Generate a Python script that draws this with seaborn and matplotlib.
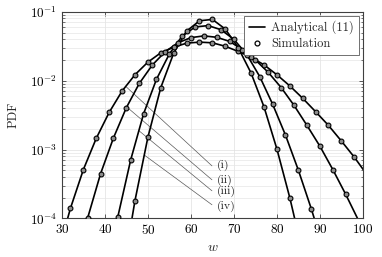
import pandas as pd
import seaborn as sns
import matplotlib.pyplot as plt
from matplotlib.lines import Line2D

# PDF values (log axis), one array per case
w_i = [29, 32, 35, 38, 41, 44, 47, 50, 53, 56, 59, 62, 65, 68, 71, 74, 77, 80, 83, 86, 89, 92, 95, 98, 101]
pdf_i = [3.0e-5, 1.41e-4, 5.13e-4, 1.46e-3, 3.47e-3, 7.08e-3, 1.22e-2, 1.86e-2, 2.54e-2, 3.06e-2,
         3.51e-2, 3.63e-2, 3.55e-2, 3.16e-2, 2.66e-2, 2.19e-2, 1.70e-2, 1.22e-2, 8.41e-3, 5.56e-3,
         3.55e-3, 2.24e-3, 1.33e-3, 7.76e-4, 4.27e-4]

w_ii = [33, 36, 39, 42, 45, 48, 51, 54, 57, 60, 63, 66, 69, 72, 75, 78, 81, 84, 87, 90, 93, 96, 99]
pdf_ii = [1.78e-5, 1.02e-4, 4.47e-4, 1.48e-3, 4.07e-3, 9.12e-3, 1.68e-2, 2.63e-2, 3.55e-2, 4.22e-2,
          4.47e-2, 4.27e-2, 3.72e-2, 2.82e-2, 2.00e-2, 1.32e-2, 7.94e-3, 4.37e-3, 2.24e-3, 1.12e-3,
          5.13e-4, 2.24e-4, 9.3e-5]

w_iii = [40, 43, 46, 49, 52, 55, 58, 61, 64, 67, 70, 73, 76, 79, 82, 85, 88, 91]
pdf_iii = [1.07e-5, 1.05e-4, 7.08e-4, 3.31e-3, 1.05e-2, 2.45e-2, 4.47e-2, 6.03e-2, 6.31e-2, 5.50e-2,
           3.98e-2, 2.40e-2, 1.15e-2, 4.57e-3, 1.62e-3, 5.01e-4, 1.38e-4, 3.39e-5]

w_iv = [44, 47, 50, 53, 56, 59, 62, 65, 68, 71, 74, 77, 80, 83, 86]
pdf_iv = [1.41e-5, 1.82e-4, 1.51e-3, 7.94e-3, 2.51e-2, 5.25e-2, 7.41e-2, 7.76e-2, 5.62e-2, 3.02e-2,
          1.29e-2, 4.17e-3, 1.02e-3, 2.0e-4, 3.16e-5]

case_labels = ['(i)', '(ii)', '(iii)', '(iv)']

# leader lines from each curve to its label
lead_w0 = [45.0, 45.2, 48.0, 49.2]
lead_p0 = [8.1e-3, 4.1e-3, 1.86e-3, 8.3e-4]
lead_w1 = [64.9, 64.9, 64.9, 64.9]
lead_p1 = [5.8e-4, 3.64e-4, 2.52e-4, 1.58e-4]
label_w = 66.0
label_p = [5.9e-4, 3.63e-4, 2.48e-4, 1.51e-4]

frames = []
for lab, w, p in zip(case_labels, [w_i, w_ii, w_iii, w_iv], [pdf_i, pdf_ii, pdf_iii, pdf_iv]):
    frames.append(pd.DataFrame({'w': w, 'pdf': p, 'case': lab}))
df = pd.concat(frames, ignore_index=True)
sim = df[(df['pdf'] >= 1e-4) & (df['w'] >= 30) & (df['w'] <= 100)]

sns.set_style('ticks')
plt.rcParams.update({
    'font.family': 'serif',
    'font.serif': ['cmr10', 'DejaVu Serif'],
    'mathtext.fontset': 'cm',
    'axes.formatter.use_mathtext': True,
    'font.size': 9,
    'xtick.direction': 'in',
    'ytick.direction': 'in',
    'xtick.top': True,
    'ytick.right': True,
    'axes.edgecolor': '0.25',
    'axes.linewidth': 0.8,
})

fig, ax = plt.subplots(figsize=(3.82, 2.57), dpi=100)
fig.subplots_adjust(left=0.162, right=0.950, bottom=0.150, top=0.954)

ax.set_yscale('log')
sns.lineplot(data=df, x='w', y='pdf', hue='case', palette=['black'] * 4, linewidth=1.2,
             estimator=None, legend=False, ax=ax)
sns.scatterplot(data=sim, x='w', y='pdf', color='0.55', edgecolor='black', s=12, linewidth=0.8,
                legend=False, ax=ax, zorder=3)

for k in range(4):
    ax.plot([lead_w0[k], lead_w1[k]], [lead_p0[k], lead_p1[k]], color='0.35', lw=0.5, zorder=1)
    ax.text(label_w, label_p[k], case_labels[k], ha='left', va='center', fontsize=8.5)

ax.set_xlim(30, 100)
ax.set_ylim(1e-4, 1e-1)
ax.set_xticks([30, 40, 50, 60, 70, 80, 90, 100])
ax.grid(which='major', color='0.88', lw=0.5)
ax.grid(which='minor', axis='y', color='0.9', lw=0.5)
ax.tick_params(which='major', length=3, width=0.6, colors='0.25', labelcolor='black', labelsize=9.5)
ax.tick_params(which='minor', length=1.8, width=0.5, colors='0.25')
ax.set_xlabel('$w$', fontsize=10, labelpad=3)
ax.set_ylabel('PDF', fontsize=9, labelpad=7)

handles = [Line2D([], [], color='black', lw=1.2),
           Line2D([], [], ls='none', marker='o', ms=3.5, mfc='white', mec='black', mew=0.9)]
leg = ax.legend(handles, ['Analytical (11)', 'Simulation'], loc='upper right', fontsize=9,
                fancybox=False, framealpha=1, edgecolor='0.35', handlelength=1.3,
                handletextpad=0.5, borderaxespad=0.3, borderpad=0.4, labelspacing=0.3)
leg.get_frame().set_linewidth(0.6)

fig.savefig('out.png', dpi=100)
